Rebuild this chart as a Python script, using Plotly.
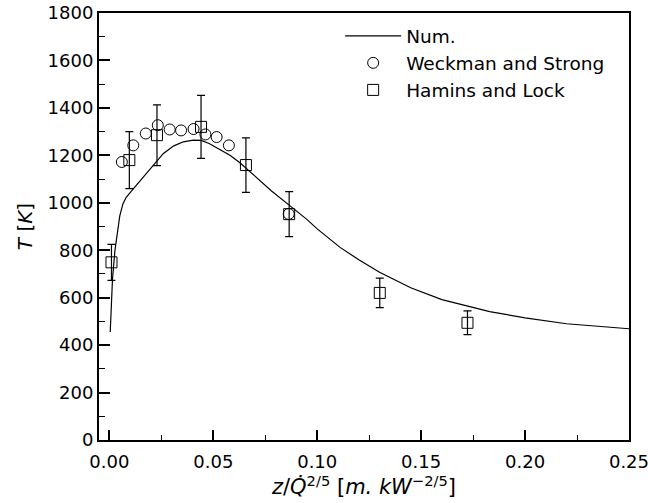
import plotly.graph_objects as go

# Numerical solution
num_x = [0.0004, 0.0015, 0.0027, 0.0038, 0.005, 0.0065, 0.008, 0.0115, 0.016, 0.0212,
         0.026, 0.031, 0.0356, 0.0404, 0.0441, 0.048, 0.0516, 0.058, 0.0628, 0.07,
         0.078, 0.0865, 0.095, 0.1, 0.106, 0.111, 0.12, 0.13, 0.145, 0.16, 0.183,
         0.2, 0.22, 0.25]
num_T = [455, 680, 801, 880, 945, 995, 1022, 1059, 1105, 1155,
         1208, 1240, 1257, 1264, 1263, 1250, 1232, 1200, 1169, 1112,
         1050, 990, 930, 890, 848, 812, 760, 707, 642, 592, 541,
         515, 490, 469]

# Weckman and Strong
ws_x = [0.0060, 0.0115, 0.0175, 0.0233, 0.0290, 0.0345, 0.0405, 0.0462, 0.0516, 0.0575, 0.0863]
ws_T = [1172, 1242, 1292, 1327, 1309, 1305, 1311, 1288, 1277, 1242, 953]

# Hamins and Lock
hl_x = [0.0010, 0.0096, 0.0229, 0.0441, 0.0657, 0.0865, 0.1301, 0.1723]
hl_T = [749, 1180, 1285, 1320, 1159, 952, 620, 494]
hl_err = [76, 120, 128, 133, 115, 95, 62, 50]

x_ticks = [0, 0.05, 0.1, 0.15, 0.2, 0.25]
x_ticktext = ["0.00", "0.05", "0.10", "0.15", "0.20", "0.25"]
x_minor = [0.025, 0.075, 0.125, 0.175, 0.225]

fig = go.Figure()
fig.add_trace(go.Scatter(x=num_x, y=num_T, mode="lines", name="Num.", legendgroup="a",
                         line=dict(color="black", width=1.2)))
fig.add_trace(go.Scatter(x=ws_x, y=ws_T, mode="markers", name="Weckman and Strong",
                         legendgroup="b",
                         marker=dict(symbol="circle-open", size=11, color="black",
                                     line=dict(width=1, color="black"))))
fig.add_trace(go.Scatter(x=hl_x, y=hl_T, mode="markers", name="Hamins and Lock",
                         legendgroup="c",
                         marker=dict(symbol="square-open", size=11, color="black",
                                     line=dict(width=1, color="black")),
                         error_y=dict(type="data", array=hl_err, visible=True,
                                      color="black", thickness=1.2, width=4)))

font_family = "DejaVu Sans"
fig.update_layout(
    width=648, height=503,
    margin=dict(l=99, r=19, t=13, b=63, autoexpand=False),
    paper_bgcolor="white", plot_bgcolor="white",
    font=dict(family=font_family, color="black", size=18),
    showlegend=True,
    legend=dict(x=0.455, y=0.99, xanchor="left", yanchor="top",
                bgcolor="rgba(0,0,0,0)", font=dict(size=18.5, family=font_family),
                tracegroupgap=0, itemwidth=56),
)
fig.update_xaxes(
    range=[-0.005, 0.25002], tickvals=x_ticks, ticktext=x_ticktext,
    ticks="inside", ticklen=10, tickwidth=1.5, tickcolor="black",
    minor=dict(tickvals=x_minor, ticks="inside",
               ticklen=5, tickwidth=1.2, tickcolor="black"),
    showline=True, linecolor="black", linewidth=2, mirror=True,
    showgrid=False, zeroline=False, automargin=False,
    tickfont=dict(size=18), ticklabelstandoff=4, ticklabeloverflow="allow",
    title=dict(text="<i>z</i>/<i>Q\u0307</i><sup>2/5</sup> [<i>m. kW</i><sup>\u22122/5</sup>]",
               font=dict(size=21), standoff=6),
)
fig.update_yaxes(
    range=[0, 1800], tickvals=list(range(0, 1801, 200)),
    ticks="inside", ticklen=11, tickwidth=1.5, tickcolor="black",
    minor=dict(tickvals=list(range(100, 1800, 200)), ticks="inside",
               ticklen=6, tickwidth=1.2, tickcolor="black"),
    showline=True, linecolor="black", linewidth=2, mirror=True,
    showgrid=False, zeroline=False, automargin=False,
    tickfont=dict(size=18), ticklabeloverflow="allow",
    title=dict(text="<i>T</i> [<i>K</i>]", font=dict(size=20), standoff=10),
)

fig.write_html("out.html")
